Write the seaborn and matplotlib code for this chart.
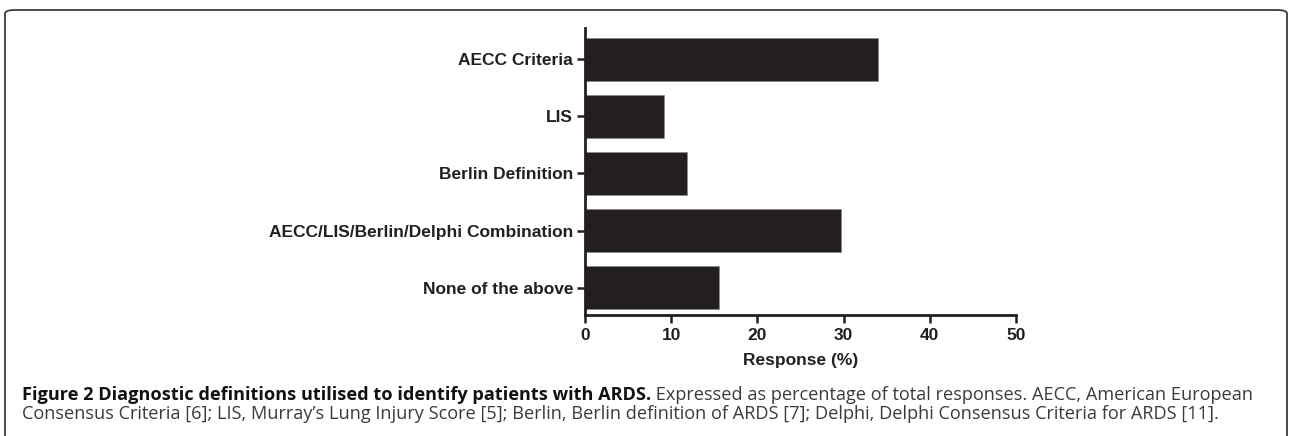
"""
Horizontal bar chart: diagnostic definitions used to identify ARDS patients.
"""

import matplotlib
matplotlib.use("Agg")
import matplotlib.pyplot as plt
from matplotlib.patches import FancyBboxPatch
import seaborn as sns
import pandas as pd

# Data
categories = [
    "AECC Criteria",
    "LIS",
    "Berlin Definition",
    "AECC/LIS/Berlin/Delphi Combination",
    "None of the above",
]
responses = [34.0, 9.2, 11.8, 29.7, 15.5]
x_ticks = [0, 10, 20, 30, 40, 50]

caption_bold = "Figure 2 Diagnostic definitions utilised to identify patients with ARDS."
caption_rest = " Expressed as percentage of total responses. AECC, American European"
caption_line2 = ("Consensus Criteria [6]; LIS, Murray\u2019s Lung Injury Score [5]; Berlin, "
                 "Berlin definition of ARDS [7]; Delphi, Delphi Consensus Criteria for ARDS [11].")

sns.set_style("ticks")
plt.rcParams['font.family'] = ['Liberation Sans', 'DejaVu Sans']

W, H = 1290, 436
fig = plt.figure(figsize=(W / 100, H / 100), dpi=100)
ax = fig.add_axes([585 / W, 1 - 315 / H, (1016 - 585) / W, (315 - 28) / H])

df = pd.DataFrame({"category": categories, "response": responses})
sns.barplot(data=df, x="response", y="category", orient="h", color="#231f20",
            edgecolor="#8a8a8a", linewidth=0.6, width=0.75, saturation=1, ax=ax)

ax.set_xlim(0, 50)
ax.set_ylim(4.48, -0.55)
ax.set_xticks(x_ticks)
ax.set_xlabel("Response (%)", fontsize=12.5, fontweight="bold", color="#231f20", labelpad=7)
ax.set_ylabel("")
sns.despine(ax=ax)
for side in ["left", "bottom"]:
    ax.spines[side].set_linewidth(2.0)
    ax.spines[side].set_color("#231f20")
ax.tick_params(axis="both", width=1.8, length=5.5, color="#231f20", labelcolor="#231f20",
               labelsize=12.5)
ax.tick_params(axis="y", pad=3)
ax.tick_params(axis="x", pad=4)
for lbl in ax.get_xticklabels() + ax.get_yticklabels():
    lbl.set_fontweight("bold")

# Rounded frame around the whole figure (open at the bottom edge)
frame = FancyBboxPatch((5 / W, -20 / H), (1287 - 5) / W, (H - 10 + 20) / H,
                       boxstyle="round,pad=0,rounding_size=0.008",
                       transform=fig.transFigure, fill=False,
                       edgecolor="#3a3a3a", linewidth=1.3, clip_on=False)
fig.patches.append(frame)

# Caption, fitted to the width of the original text block
cap_font = ['Open Sans', 'DejaVu Sans']
t2 = fig.text(22 / W, 1 - 419 / H, caption_line2, fontsize=11, family=cap_font,
              color="#3a3a3a", va="baseline", ha="left")
fig.canvas.draw()
renderer = fig.canvas.get_renderer()
w2 = t2.get_window_extent(renderer).width
size = 11 * (1222 - 22) / w2
t2.set_fontsize(size)

t1 = fig.text(22 / W, 1 - 400 / H, caption_bold, fontsize=size, family=cap_font,
              fontweight="bold", color="#111111", va="baseline", ha="left")
fig.canvas.draw()
bb = t1.get_window_extent(renderer)
fig.text(bb.x1 / W, 1 - 400 / H, caption_rest, fontsize=size, family=cap_font,
         color="#3a3a3a", va="baseline", ha="left")

fig.savefig("out.png", dpi=100)
